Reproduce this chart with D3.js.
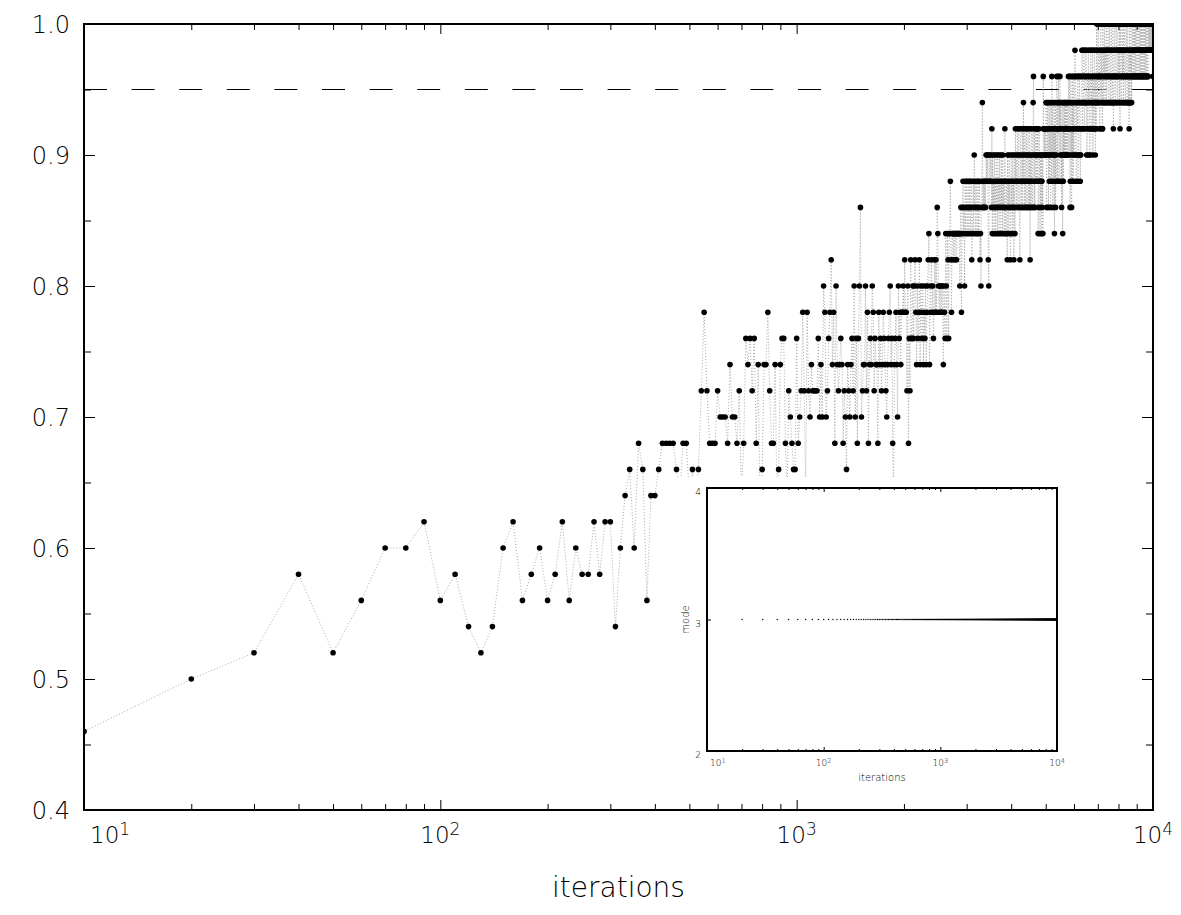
<!DOCTYPE html>
<html>
<head>
<meta charset="utf-8">
<script src="https://cdn.jsdelivr.net/npm/d3@7/dist/d3.min.js"></script>
<style>
html,body{margin:0;padding:0;background:#fff;}
svg{display:block;}
.lbl{font-family:"DejaVu Sans ExtraLight","DejaVu Sans",sans-serif;font-weight:200;fill:#000;}
</style>
</head>
<body>
<svg id="chart" width="1181" height="915"></svg>
<script>
// ---------------- data ----------------
const iterations = d3.range(10, 10001, 10);

const successRate = [
0.46,0.50,0.52,0.58,0.52,0.56,0.60,0.60,0.62,0.56, 0.58,0.54,0.52,0.54,0.60,0.62,0.56,0.58,0.60,0.56,
0.58,0.62,0.56,0.60,0.58,0.58,0.62,0.58,0.62,0.62, 0.54,0.60,0.64,0.66,0.60,0.68,0.66,0.56,0.64,0.64,
0.66,0.68,0.68,0.68,0.68,0.66,0.64,0.68,0.68,0.64, 0.66,0.64,0.66,0.72,0.78,0.72,0.68,0.68,0.68,0.72,
0.70,0.70,0.70,0.68,0.74,0.70,0.70,0.68,0.72,0.64, 0.68,0.76,0.74,0.76,0.72,0.76,0.68,0.74,0.62,0.66,
0.74,0.74,0.78,0.72,0.68,0.68,0.74,0.64,0.66,0.74, 0.76,0.76,0.68,0.64,0.72,0.70,0.68,0.66,0.66,0.76,
0.68,0.70,0.72,0.78,0.72,0.64,0.78,0.72,0.70,0.74, 0.72,0.72,0.72,0.72,0.76,0.70,0.74,0.70,0.80,0.78,
0.70,0.72,0.76,0.78,0.82,0.74,0.78,0.68,0.80,0.74, 0.72,0.74,0.76,0.74,0.68,0.72,0.70,0.66,0.74,0.72,
0.70,0.74,0.76,0.72,0.80,0.70,0.76,0.68,0.76,0.80, 0.86,0.70,0.72,0.74,0.74,0.80,0.72,0.78,0.68,0.74,
0.76,0.74,0.80,0.78,0.72,0.76,0.74,0.74,0.68,0.78, 0.74,0.76,0.72,0.74,0.78,0.76,0.74,0.72,0.70,0.74,
0.76,0.78,0.80,0.74,0.76,0.68,0.64,0.74,0.76,0.78, 0.74,0.70,0.80,0.76,0.78,0.74,0.78,0.78,0.80,0.78,
0.82,0.78,0.78,0.72,0.80,0.68,0.76,0.72,0.82,0.76, 0.76,0.80,0.76,0.80,0.82,0.78,0.74,0.80,0.76,0.78,
0.82,0.74,0.80,0.78,0.76,0.80,0.74,0.78,0.76,0.80, 0.74,0.78,0.80,0.82,0.84,0.74,0.78,0.80,0.82,0.78,
0.80,0.76,0.78,0.82,0.78,0.82,0.78,0.86,0.84,0.80, 0.78,0.80,0.78,0.80,0.78,0.80,0.78,0.74,0.80,0.78,
0.76,0.84,0.80,0.76,0.84,0.82,0.76,0.84,0.84,0.88, 0.82,0.78,0.84,0.84,0.82,0.84,0.84,0.82,0.84,0.84,
0.82,0.84,0.84,0.84,0.84,0.84,0.80,0.84,0.86,0.78, 0.84,0.86,0.88,0.84,0.86,0.80,0.88,0.84,0.86,0.88,
0.84,0.86,0.88,0.84,0.86,0.88,0.84,0.86,0.88,0.82, 0.84,0.86,0.88,0.84,0.90,0.86,0.88,0.84,0.86,0.88,
0.84,0.86,0.88,0.84,0.86,0.88,0.82,0.84,0.80,0.86, 0.88,0.94,0.86,0.88,0.86,0.88,0.86,0.88,0.86,0.90,
0.88,0.90,0.88,0.90,0.82,0.80,0.88,0.90,0.88,0.90, 0.88,0.86,0.92,0.84,0.90,0.86,0.88,0.84,0.90,0.86,
0.88,0.84,0.90,0.86,0.88,0.84,0.90,0.86,0.88,0.84, 0.90,0.86,0.88,0.84,0.90,0.86,0.88,0.84,0.90,0.86,
0.88,0.84,0.86,0.92,0.88,0.84,0.86,0.88,0.84,0.82, 0.90,0.86,0.88,0.84,0.90,0.86,0.88,0.82,0.84,0.90,
0.86,0.88,0.84,0.90,0.86,0.88,0.82,0.90,0.86,0.84, 0.92,0.88,0.90,0.86,0.88,0.92,0.90,0.86,0.88,0.92,
0.90,0.86,0.82,0.88,0.90,0.92,0.86,0.88,0.90,0.86, 0.92,0.88,0.94,0.90,0.86,0.88,0.92,0.90,0.86,0.88,
0.92,0.90,0.86,0.88,0.90,0.92,0.86,0.88,0.90,0.86, 0.92,0.82,0.88,0.90,0.86,0.88,0.92,0.90,0.86,0.88,
0.94,0.96,0.90,0.86,0.92,0.86,0.88,0.90,0.92,0.88, 0.90,0.92,0.88,0.90,0.92,0.84,0.86,0.88,0.92,0.90,
0.88,0.84,0.90,0.86,0.88,0.90,0.84,0.88,0.86,0.90, 0.84,0.96,0.92,0.92,0.90,0.92,0.90,0.92,0.90,0.92,
0.94,0.90,0.86,0.92,0.94,0.90,0.92,0.94,0.86,0.90, 0.92,0.88,0.94,0.90,0.92,0.86,0.94,0.90,0.88,0.96,
0.92,0.90,0.94,0.86,0.92,0.90,0.88,0.94,0.84,0.92, 0.90,0.94,0.86,0.92,0.88,0.90,0.96,0.92,0.94,0.88,
0.92,0.94,0.96,0.92,0.88,0.94,0.92,0.96,0.90,0.94, 0.92,0.88,0.90,0.86,0.94,0.92,0.90,0.84,0.94,0.88,
0.92,0.90,0.94,0.92,0.90,0.94,0.92,0.90,0.94,0.92, 0.90,0.94,0.92,0.90,0.94,0.92,0.90,0.94,0.96,0.92,
0.90,0.94,0.96,0.92,0.86,0.88,0.94,0.96,0.90,0.92, 0.86,0.94,0.88,0.96,0.90,0.92,0.94,0.88,0.96,0.90,
0.92,0.92,0.94,0.98,0.96,0.96,0.90,0.90,0.88,0.94, 0.94,0.92,0.92,0.96,0.96,0.88,0.90,0.90,0.94,0.94,
0.96,0.96,0.92,0.92,0.88,0.90,0.90,0.94,0.94,0.96, 0.96,0.98,0.98,0.92,0.92,0.94,0.94,0.96,0.96,0.98,
0.98,0.92,0.92,0.94,0.94,0.96,0.96,0.98,0.98,0.94, 0.94,0.90,0.90,0.96,0.96,0.92,0.92,0.98,0.98,0.94,
0.94,0.96,0.96,0.90,0.90,0.92,0.92,0.98,0.98,0.94, 0.94,0.96,0.96,0.92,0.92,0.98,0.98,0.90,0.94,0.94,
0.96,0.96,0.92,0.92,0.98,0.98,0.94,0.94,0.90,0.96, 0.96,0.92,0.92,0.98,1.00,0.98,0.94,0.94,0.96,0.96,
1.00,1.00,0.94,0.94,0.96,0.96,0.98,0.98,0.92,0.92, 0.96,0.96,1.00,1.00,0.94,0.94,0.98,0.98,0.96,0.96,
0.92,0.92,1.00,1.00,0.94,0.94,0.98,0.98,0.96,0.96, 1.00,1.00,0.94,0.94,0.98,0.98,0.96,0.96,1.00,1.00,
0.94,0.94,0.98,0.98,0.96,0.96,1.00,1.00,0.98,0.98, 0.94,0.94,0.96,0.96,1.00,1.00,0.98,0.98,0.94,0.94,
0.96,0.96,1.00,1.00,0.98,0.98,0.94,0.94,0.96,0.96, 1.00,1.00,0.98,0.92,0.94,0.94,0.96,0.96,0.98,0.98,
1.00,1.00,0.94,0.94,0.96,0.96,0.98,0.98,1.00,1.00, 0.96,0.96,0.94,0.94,0.98,0.98,1.00,1.00,0.96,0.96,
0.98,0.98,0.94,0.94,1.00,1.00,0.96,0.92,0.98,0.98, 1.00,1.00,0.96,0.96,0.94,0.94,0.98,0.98,1.00,1.00,
0.96,0.96,0.98,0.98,0.94,0.94,1.00,1.00,0.96,0.96, 0.98,0.98,1.00,1.00,0.94,0.94,0.96,0.96,0.98,0.98,
1.00,1.00,0.96,0.96,0.94,0.94,0.98,0.98,1.00,1.00, 0.96,0.96,0.94,0.94,0.98,0.98,0.92,0.96,1.00,1.00,
0.94,0.94,0.98,0.98,0.96,0.96,1.00,1.00,0.94,0.98, 0.94,0.96,0.96,1.00,1.00,0.98,0.98,0.96,0.96,1.00,
1.00,0.98,0.98,0.96,0.96,1.00,1.00,0.98,0.98,0.96, 0.96,1.00,1.00,0.98,0.98,0.96,0.96,1.00,1.00,0.98,
0.98,0.96,0.96,1.00,1.00,0.98,0.98,0.96,0.96,1.00, 1.00,0.98,0.98,0.96,0.96,1.00,1.00,0.98,0.98,0.96,
0.96,1.00,1.00,0.98,0.98,0.96,0.96,1.00,1.00,0.98, 0.98,0.96,0.96,1.00,1.00,0.98,0.98,0.96,0.96,1.00,
1.00,0.98,0.98,0.96,0.96,1.00,1.00,0.98,0.98,0.96, 0.96,1.00,1.00,0.98,0.98,0.96,0.96,1.00,1.00,0.98,
0.98,0.96,0.96,1.00,1.00,0.98,0.98,0.96,0.96,1.00, 1.00,0.98,0.98,1.00,1.00,0.98,0.98,1.00,1.00,0.98,
0.98,1.00,1.00,0.98,0.98,1.00,1.00,0.98,0.98,1.00, 1.00,0.98,0.98,1.00,1.00,0.98,0.98,1.00,1.00,0.96
];

const modeValues = [
3,3,3,3,3,3,3,3,3,3,3,3,3,3,3,3,3,3,3,3,3,3,3,3,3,3,3,3,3,3,3,3,3,3,3,3,3,3,3,3,3,3,3,3,3,3,3,3,3,3,
3,3,3,3,3,3,3,3,3,3,3,3,3,3,3,3,3,3,3,3,3,3,3,3,3,3,3,3,3,3,3,3,3,3,3,3,3,3,3,3,3,3,3,3,3,3,3,3,3,3,
3,3,3,3,3,3,3,3,3,3,3,3,3,3,3,3,3,3,3,3,3,3,3,3,3,3,3,3,3,3,3,3,3,3,3,3,3,3,3,3,3,3,3,3,3,3,3,3,3,3,
3,3,3,3,3,3,3,3,3,3,3,3,3,3,3,3,3,3,3,3,3,3,3,3,3,3,3,3,3,3,3,3,3,3,3,3,3,3,3,3,3,3,3,3,3,3,3,3,3,3,
3,3,3,3,3,3,3,3,3,3,3,3,3,3,3,3,3,3,3,3,3,3,3,3,3,3,3,3,3,3,3,3,3,3,3,3,3,3,3,3,3,3,3,3,3,3,3,3,3,3,
3,3,3,3,3,3,3,3,3,3,3,3,3,3,3,3,3,3,3,3,3,3,3,3,3,3,3,3,3,3,3,3,3,3,3,3,3,3,3,3,3,3,3,3,3,3,3,3,3,3,
3,3,3,3,3,3,3,3,3,3,3,3,3,3,3,3,3,3,3,3,3,3,3,3,3,3,3,3,3,3,3,3,3,3,3,3,3,3,3,3,3,3,3,3,3,3,3,3,3,3,
3,3,3,3,3,3,3,3,3,3,3,3,3,3,3,3,3,3,3,3,3,3,3,3,3,3,3,3,3,3,3,3,3,3,3,3,3,3,3,3,3,3,3,3,3,3,3,3,3,3,
3,3,3,3,3,3,3,3,3,3,3,3,3,3,3,3,3,3,3,3,3,3,3,3,3,3,3,3,3,3,3,3,3,3,3,3,3,3,3,3,3,3,3,3,3,3,3,3,3,3,
3,3,3,3,3,3,3,3,3,3,3,3,3,3,3,3,3,3,3,3,3,3,3,3,3,3,3,3,3,3,3,3,3,3,3,3,3,3,3,3,3,3,3,3,3,3,3,3,3,3,
3,3,3,3,3,3,3,3,3,3,3,3,3,3,3,3,3,3,3,3,3,3,3,3,3,3,3,3,3,3,3,3,3,3,3,3,3,3,3,3,3,3,3,3,3,3,3,3,3,3,
3,3,3,3,3,3,3,3,3,3,3,3,3,3,3,3,3,3,3,3,3,3,3,3,3,3,3,3,3,3,3,3,3,3,3,3,3,3,3,3,3,3,3,3,3,3,3,3,3,3,
3,3,3,3,3,3,3,3,3,3,3,3,3,3,3,3,3,3,3,3,3,3,3,3,3,3,3,3,3,3,3,3,3,3,3,3,3,3,3,3,3,3,3,3,3,3,3,3,3,3,
3,3,3,3,3,3,3,3,3,3,3,3,3,3,3,3,3,3,3,3,3,3,3,3,3,3,3,3,3,3,3,3,3,3,3,3,3,3,3,3,3,3,3,3,3,3,3,3,3,3,
3,3,3,3,3,3,3,3,3,3,3,3,3,3,3,3,3,3,3,3,3,3,3,3,3,3,3,3,3,3,3,3,3,3,3,3,3,3,3,3,3,3,3,3,3,3,3,3,3,3,
3,3,3,3,3,3,3,3,3,3,3,3,3,3,3,3,3,3,3,3,3,3,3,3,3,3,3,3,3,3,3,3,3,3,3,3,3,3,3,3,3,3,3,3,3,3,3,3,3,3,
3,3,3,3,3,3,3,3,3,3,3,3,3,3,3,3,3,3,3,3,3,3,3,3,3,3,3,3,3,3,3,3,3,3,3,3,3,3,3,3,3,3,3,3,3,3,3,3,3,3,
3,3,3,3,3,3,3,3,3,3,3,3,3,3,3,3,3,3,3,3,3,3,3,3,3,3,3,3,3,3,3,3,3,3,3,3,3,3,3,3,3,3,3,3,3,3,3,3,3,3,
3,3,3,3,3,3,3,3,3,3,3,3,3,3,3,3,3,3,3,3,3,3,3,3,3,3,3,3,3,3,3,3,3,3,3,3,3,3,3,3,3,3,3,3,3,3,3,3,3,3,
3,3,3,3,3,3,3,3,3,3,3,3,3,3,3,3,3,3,3,3,3,3,3,3,3,3,3,3,3,3,3,3,3,3,3,3,3,3,3,3,3,3,3,3,3,3,3,3,3,3
];

const yMajorTicks = [0.4, 0.5, 0.6, 0.7, 0.8, 0.9, 1.0];
const yTickLabels = ["0.4", "0.5", "0.6", "0.7", "0.8", "0.9", "1.0"];
const yMinorTicks = [0.45, 0.55, 0.65, 0.75, 0.85, 0.95];
const xMajorTicks = [10, 100, 1000, 10000];
const xTickExponents = ["1", "2", "3", "4"];
const xMinorTicks = [20,30,40,50,60,70,80,90, 200,300,400,500,600,700,800,900, 2000,3000,4000,5000,6000,7000,8000,9000];
const threshold = 0.95;
const insetYTicks = [2, 3, 4];
const insetYTickLabels = ["2", "3", "4"];
const xTitle = "iterations";
const insetYTitle = "mode";

// ---------------- drawing ----------------
const svg = d3.select("#chart");
const P = {l: 84, r: 1153, t: 24, b: 810};
const x = d3.scaleLog().domain([10, 10000]).range([P.l, P.r]);
const y = d3.scaleLinear().domain([0.4, 1.0]).range([P.b, P.t]);

svg.append("rect").attr("width", 1181).attr("height", 915).attr("fill", "#fff");

const defs = svg.append("defs");
defs.append("clipPath").attr("id", "plotclip").append("rect")
  .attr("x", P.l).attr("y", P.t).attr("width", P.r - P.l).attr("height", P.b - P.t);

// threshold dashed line
svg.append("line")
  .attr("x1", x(10)).attr("x2", x(10000))
  .attr("y1", y(threshold)).attr("y2", y(threshold))
  .attr("stroke", "#000").attr("stroke-width", 1).attr("stroke-dasharray", "23 24.6");

const n = Math.min(iterations.length, successRate.length);
const pts = d3.range(n).map(i => ({it: iterations[i], v: successRate[i]}));

const plot = svg.append("g").attr("clip-path", "url(#plotclip)");
plot.append("path").datum(pts)
  .attr("d", d3.line().x(d => x(d.it)).y(d => y(d.v)))
  .attr("fill", "none").attr("stroke", "#aaaaaa").attr("stroke-width", 1)
  .attr("stroke-dasharray", "1 2");
plot.selectAll("circle").data(pts).join("circle")
  .attr("cx", d => x(d.it)).attr("cy", d => y(d.v)).attr("r", 2.8).attr("fill", "#000");

// ---------------- inset ----------------
const I = {l: 707, r: 1057, t: 488, b: 751};
const xi = d3.scaleLog().domain([10, 10000]).range([I.l, I.r]);
const yi = d3.scaleLinear().domain([2, 4]).range([I.b, I.t]);

svg.append("rect").attr("x", 668).attr("y", 477).attr("width", 402).attr("height", 320).attr("fill", "#fff");

const mpts = d3.range(Math.min(iterations.length, modeValues.length)).map(i => ({it: iterations[i], v: modeValues[i]}));
svg.append("g").selectAll("rect").data(mpts).join("rect")
  .attr("x", d => xi(d.it) - 0.6).attr("y", d => yi(d.v) - 0.6)
  .attr("width", 1.2).attr("height", 1.2).attr("fill", "#000");

function cleanAxis(g) {
  g.select(".domain").remove();
  g.selectAll("text").remove();
  g.selectAll("line").attr("stroke", "#000").attr("stroke-width", 1);
}

// inset ticks
svg.append("g").attr("transform", `translate(0,${I.b})`)
  .call(d3.axisBottom(xi).tickValues(xMajorTicks).tickSizeInner(-4).tickSizeOuter(0)).call(cleanAxis);
svg.append("g").attr("transform", `translate(0,${I.b})`)
  .call(d3.axisBottom(xi).tickValues(xMinorTicks).tickSizeInner(-2).tickSizeOuter(0)).call(cleanAxis);
svg.append("g").attr("transform", `translate(0,${I.t})`)
  .call(d3.axisTop(xi).tickValues(xMajorTicks).tickSizeInner(-4).tickSizeOuter(0)).call(cleanAxis);
svg.append("g").attr("transform", `translate(0,${I.t})`)
  .call(d3.axisTop(xi).tickValues(xMinorTicks).tickSizeInner(-2).tickSizeOuter(0)).call(cleanAxis);
svg.append("g").attr("transform", `translate(${I.l},0)`)
  .call(d3.axisLeft(yi).tickValues(insetYTicks).tickSizeInner(-4).tickSizeOuter(0)).call(cleanAxis);
svg.append("g").attr("transform", `translate(${I.r},0)`)
  .call(d3.axisRight(yi).tickValues(insetYTicks).tickSizeInner(-4).tickSizeOuter(0)).call(cleanAxis);

svg.append("rect").attr("x", I.l).attr("y", I.t).attr("width", I.r - I.l).attr("height", I.b - I.t)
  .attr("fill", "none").attr("stroke", "#000").attr("stroke-width", 2);

insetYTicks.forEach((t, i) => {
  svg.append("text").attr("class", "lbl").attr("x", 701).attr("y", yi(t) + 7)
    .attr("text-anchor", "end").attr("font-size", 9).text(insetYTickLabels[i]);
});
svg.append("text").attr("class", "lbl").attr("font-size", 10).attr("text-anchor", "middle")
  .attr("transform", `translate(689,${yi(3)}) rotate(-90)`).text(insetYTitle);
xMajorTicks.forEach((t, i) => {
  const tx = svg.append("text").attr("class", "lbl").attr("y", 766).attr("font-size", 9);
  if (i === 0) tx.attr("x", xi(t) + 3).attr("text-anchor", "start");
  else tx.attr("x", xi(t)).attr("text-anchor", "middle");
  tx.append("tspan").text("10");
  tx.append("tspan").attr("dy", -3).attr("font-size", 6.5).text(xTickExponents[i]);
});
svg.append("text").attr("class", "lbl").attr("x", (I.l + I.r) / 2).attr("y", 781)
  .attr("text-anchor", "middle").attr("font-size", 10).text(xTitle);

// ---------------- main axes ----------------
svg.append("g").attr("transform", `translate(0,${P.b})`)
  .call(d3.axisBottom(x).tickValues(xMajorTicks).tickSizeInner(-10).tickSizeOuter(0)).call(cleanAxis);
svg.append("g").attr("transform", `translate(0,${P.b})`)
  .call(d3.axisBottom(x).tickValues(xMinorTicks).tickSizeInner(-6).tickSizeOuter(0)).call(cleanAxis);
svg.append("g").attr("transform", `translate(0,${P.t})`)
  .call(d3.axisTop(x).tickValues(xMajorTicks).tickSizeInner(-10).tickSizeOuter(0)).call(cleanAxis);
svg.append("g").attr("transform", `translate(0,${P.t})`)
  .call(d3.axisTop(x).tickValues(xMinorTicks).tickSizeInner(-6).tickSizeOuter(0)).call(cleanAxis);
svg.append("g").attr("transform", `translate(${P.l},0)`)
  .call(d3.axisLeft(y).tickValues(yMajorTicks).tickSizeInner(-11).tickSizeOuter(0)).call(cleanAxis);
svg.append("g").attr("transform", `translate(${P.l},0)`)
  .call(d3.axisLeft(y).tickValues(yMinorTicks).tickSizeInner(-7).tickSizeOuter(0)).call(cleanAxis);
svg.append("g").attr("transform", `translate(${P.r},0)`)
  .call(d3.axisRight(y).tickValues(yMajorTicks).tickSizeInner(-11).tickSizeOuter(0)).call(cleanAxis);
svg.append("g").attr("transform", `translate(${P.r},0)`)
  .call(d3.axisRight(y).tickValues(yMinorTicks).tickSizeInner(-7).tickSizeOuter(0)).call(cleanAxis);

svg.append("rect").attr("x", P.l).attr("y", P.t).attr("width", P.r - P.l).attr("height", P.b - P.t)
  .attr("fill", "none").attr("stroke", "#000").attr("stroke-width", 2);

yMajorTicks.forEach((t, i) => {
  svg.append("text").attr("class", "lbl").attr("x", 70).attr("y", y(t) + 8.8)
    .attr("text-anchor", "end").attr("font-size", 24).text(yTickLabels[i]);
});
xMajorTicks.forEach((t, i) => {
  const tx = svg.append("text").attr("class", "lbl").attr("y", 843).attr("font-size", 23);
  if (i === 0) tx.attr("x", x(t) + 6).attr("text-anchor", "start");
  else tx.attr("x", x(t)).attr("text-anchor", "middle");
  tx.append("tspan").text("10");
  tx.append("tspan").attr("dy", -8).attr("font-size", 17).text(xTickExponents[i]);
});
svg.append("text").attr("class", "lbl").attr("x", (P.l + P.r) / 2).attr("y", 897)
  .attr("text-anchor", "middle").attr("font-size", 28).text(xTitle);
</script>
</body>
</html>
